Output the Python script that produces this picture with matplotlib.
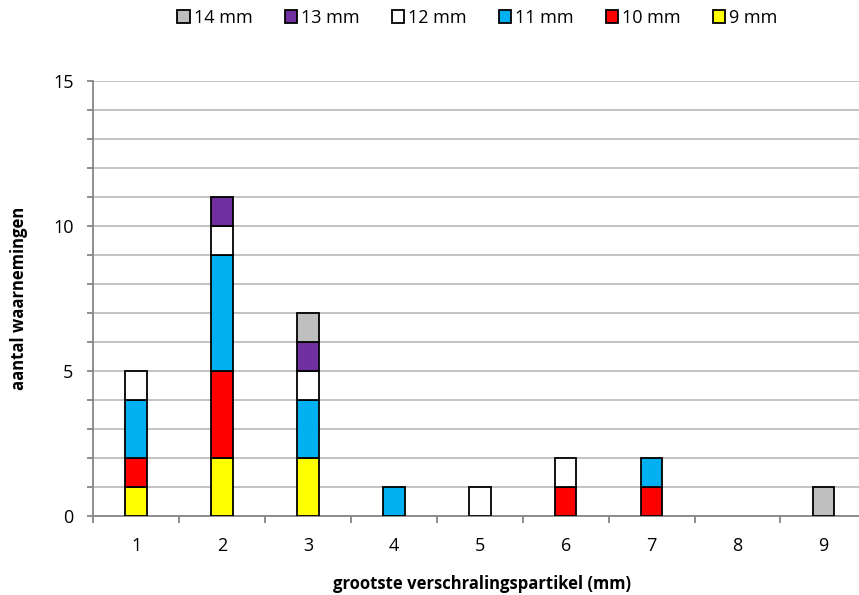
import numpy as np
import matplotlib.pyplot as plt

plt.rcParams['font.family'] = ['Open Sans', 'DejaVu Sans']

# Data per category (grootste verschralingspartikel)
categories = ['1', '2', '3', '4', '5', '6', '7', '8', '9']
series_names = ['9 mm', '10 mm', '11 mm', '12 mm', '13 mm', '14 mm']
mm9 = [1, 2, 2, 0, 0, 0, 0, 0, 0]
mm10 = [1, 3, 0, 0, 0, 1, 1, 0, 0]
mm11 = [2, 4, 2, 1, 0, 0, 1, 0, 0]
mm12 = [1, 1, 1, 0, 1, 1, 0, 0, 0]
mm13 = [0, 1, 1, 0, 0, 0, 0, 0, 0]
mm14 = [0, 0, 1, 0, 0, 0, 0, 0, 1]
series = [mm9, mm10, mm11, mm12, mm13, mm14]
colors = ['#FFFF00', '#FF0000', '#00B0F0', '#FFFFFF', '#7030A0', '#BFBFBF']

fig = plt.figure(figsize=(8.59, 5.95), dpi=100)
# axes runs slightly past the right edge, as in the original
ax = fig.add_axes([0.1086, 0.133, 0.9, 0.731])

x = np.arange(1, len(categories) + 1)
bottom = np.zeros(len(categories))
handles = []
for name, vals, col in zip(series_names, series, colors):
    vals = np.array(vals, dtype=float)
    lw = [1.3 if v > 0 else 0 for v in vals]
    ax.bar(x, vals, width=0.25, bottom=bottom, color=col, edgecolor='black',
           linewidth=lw, zorder=3)
    handles.append(plt.Rectangle((0, 0), 1, 1, facecolor=col, edgecolor='black', linewidth=1.3))
    bottom += vals

ax.set_xlim(0.5, len(categories) + 0.5)
ax.set_ylim(0, 15)
ax.set_yticks([0, 5, 10, 15])
ax.set_yticks(np.arange(0, 16, 1), minor=True)
ax.set_xticks(x)
ax.set_xticklabels(categories)
ax.set_xticks(np.arange(0.5, len(categories) + 1, 1), minor=True)
ax.grid(axis='y', which='both', color='#BEBEBE', linewidth=1.3, zorder=0)

ax.tick_params(axis='x', which='major', length=0, pad=15, labelsize=13)
ax.tick_params(axis='x', which='minor', length=5, color='#868686', width=1.3)
ax.tick_params(axis='y', which='both', length=4.3, color='#868686', width=1.3, labelsize=13, pad=10)

for side in ['top', 'right']:
    ax.spines[side].set_visible(False)
for side in ['left', 'bottom']:
    ax.spines[side].set_color('#868686')
    ax.spines[side].set_linewidth(1.3)

ax.set_xlabel('grootste verschralingspartikel (mm)', fontweight='bold', fontsize=12)
ax.set_ylabel('aantal waarnemingen', fontweight='bold', fontsize=12)
ax.xaxis.set_label_coords(0.503, -0.136)
ax.yaxis.set_label_coords(-0.084, 0.5)

fig.legend(handles[::-1], series_names[::-1], loc='center', bbox_to_anchor=(0.556, 1 - 18 / 595),
           ncol=6, frameon=False, fontsize=13, handlelength=0.68, handleheight=0.68,
           handletextpad=0.25, columnspacing=1.75, borderpad=0)

fig.savefig('out.png', dpi=100)
